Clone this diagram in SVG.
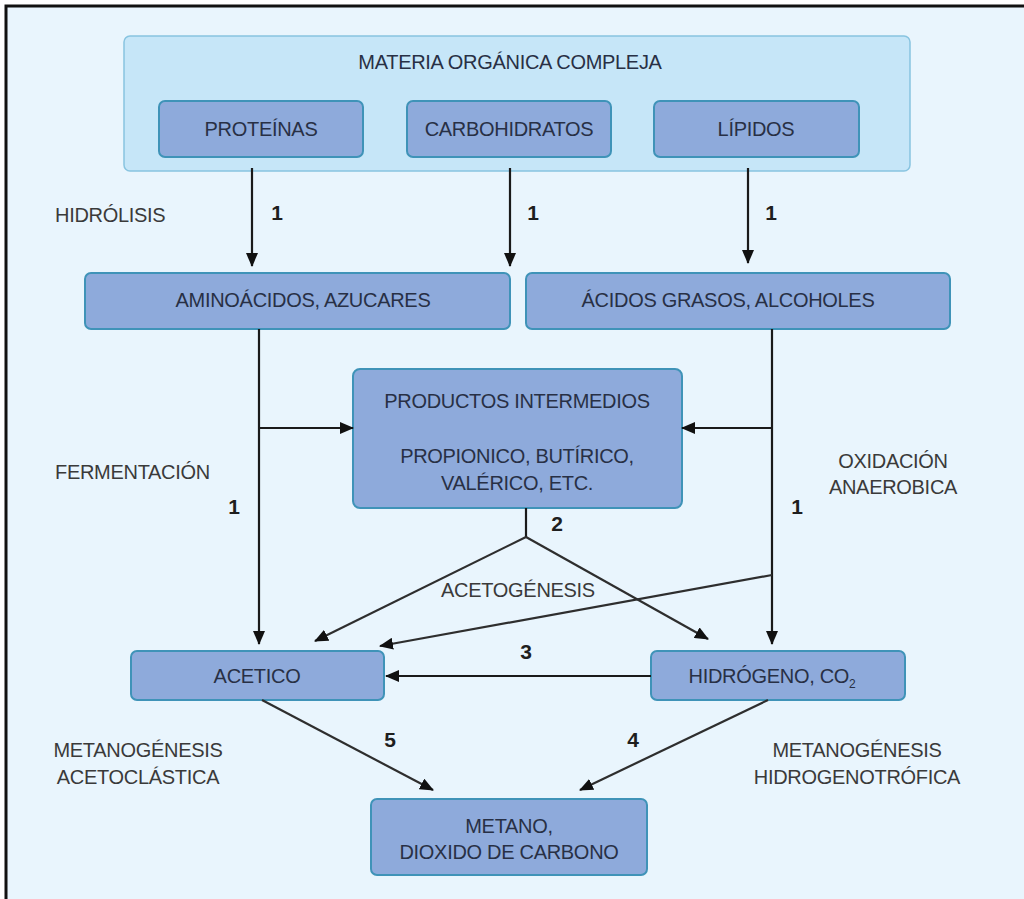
<svg xmlns="http://www.w3.org/2000/svg" width="1024" height="899" viewBox="0 0 1024 899">
  <style>
    .bg { fill: #e9f5fd; }
    .frame { fill: none; stroke: #111; stroke-width: 3; }
    .group { fill: #c6e6f8; stroke: #88c4e0; stroke-width: 1.5; }
    .box { fill: #8eaadb; stroke: #3f93b8; stroke-width: 2; }
    .t { font-family: "Liberation Sans", Arial, sans-serif; font-size: 20px; letter-spacing: -0.3px; fill: #283045; text-anchor: middle; }
    .lbl { font-family: "Liberation Sans", Arial, sans-serif; font-size: 20px; letter-spacing: -0.3px; fill: #3a3a3a; }
    .num { font-family: "Liberation Sans", Arial, sans-serif; font-size: 21px; font-weight: bold; fill: #1e1e1e; text-anchor: middle; }
    .ln { fill: none; stroke: #1a1a1a; stroke-width: 2.2; marker-end: url(#arr); }
    .ln2 { fill: none; stroke: #2e2e2e; stroke-width: 2.2; marker-end: url(#arr); }
  </style>
  <defs>
    <marker id="arr" markerUnits="userSpaceOnUse" markerWidth="14" markerHeight="12" refX="13" refY="6" orient="auto">
      <path d="M0,0 L14,6 L0,12 z" fill="#111"/>
    </marker>
  </defs>

  <!-- page background and frame -->
  <rect x="0" y="0" width="1024" height="899" fill="#ffffff"/>
  <rect class="bg" x="7" y="7" width="1017" height="892"/>
  <path class="frame" d="M6 899 V6 H1024"/>

  <!-- complex organic matter -->
  <g id="materia">
    <rect class="group" x="124" y="36" width="786" height="135" rx="6"/>
    <text class="t" x="510" y="69">MATERIA ORGÁNICA COMPLEJA</text>
  </g>
  <g id="proteinas">
    <rect class="box" x="159" y="101" width="204" height="56" rx="6"/>
    <text class="t" x="261" y="136">PROTEÍNAS</text>
  </g>
  <g id="carbohidratos">
    <rect class="box" x="407" y="101" width="204" height="56" rx="6"/>
    <text class="t" x="509" y="136">CARBOHIDRATOS</text>
  </g>
  <g id="lipidos">
    <rect class="box" x="654" y="101" width="205" height="56" rx="6"/>
    <text class="t" x="756" y="136">LÍPIDOS</text>
  </g>

  <!-- hydrolysis products -->
  <g id="aminoacidos">
    <rect class="box" x="85" y="273" width="425" height="56" rx="6"/>
    <text class="t" x="303" y="307">AMINOÁCIDOS, AZUCARES</text>
  </g>
  <g id="acidos-grasos">
    <rect class="box" x="526" y="273" width="424" height="56" rx="6"/>
    <text class="t" x="728" y="307">ÁCIDOS GRASOS, ALCOHOLES</text>
  </g>

  <!-- intermediate products -->
  <g id="intermedios">
    <rect class="box" x="353" y="369" width="329" height="139" rx="7"/>
    <text class="t" x="517" y="408">PRODUCTOS INTERMEDIOS</text>
    <text class="t" x="517" y="463">PROPIONICO, BUTÍRICO,</text>
    <text class="t" x="517" y="490">VALÉRICO, ETC.</text>
  </g>

  <!-- acetate and hydrogen -->
  <g id="acetico">
    <rect class="box" x="131" y="651" width="253" height="49" rx="6"/>
    <text class="t" x="257" y="683">ACETICO</text>
  </g>
  <g id="hidrogeno">
    <rect class="box" x="651" y="651" width="254" height="49" rx="6"/>
    <text class="t" x="772" y="683">HIDRÓGENO, CO<tspan font-size="12" dy="5">2</tspan></text>
  </g>

  <!-- final products -->
  <g id="metano">
    <rect class="box" x="371" y="799" width="276" height="76" rx="6"/>
    <text class="t" x="509" y="833">METANO,</text>
    <text class="t" x="509" y="859">DIOXIDO DE CARBONO</text>
  </g>

  <!-- connectors -->
  <g id="connectors">
    <path class="ln" d="M252 168 V266"/>
    <path class="ln" d="M510 168 V266"/>
    <path class="ln" d="M748 168 V263"/>
    <path class="ln" d="M259 329 V644"/>
    <path class="ln" d="M259 428 H353"/>
    <path class="ln" d="M772 329 V644"/>
    <path class="ln" d="M772 428 H682"/>
    <path fill="none" stroke="#1a1a1a" stroke-width="2.2" d="M526 508 V537"/>
    <path class="ln2" d="M526 537 L315 641"/>
    <path class="ln2" d="M526 537 L708 639"/>
    <path class="ln2" d="M772 575 L380 646"/>
    <path class="ln" stroke-width="3" d="M651 676 H386"/>
    <path class="ln2" d="M262 700 L433 790"/>
    <path class="ln2" d="M768 700 L580 790"/>
  </g>

  <!-- stage labels -->
  <g id="labels">
    <text class="lbl" x="55" y="222">HIDRÓLISIS</text>
    <text class="lbl" x="55" y="479">FERMENTACIÓN</text>
    <text class="lbl" x="893" y="468" text-anchor="middle">OXIDACIÓN</text>
    <text class="lbl" x="893" y="494" text-anchor="middle">ANAEROBICA</text>
    <text class="lbl" x="518" y="597" text-anchor="middle">ACETOGÉNESIS</text>
    <text class="lbl" x="138" y="757" text-anchor="middle">METANOGÉNESIS</text>
    <text class="lbl" x="138" y="784" text-anchor="middle">ACETOCLÁSTICA</text>
    <text class="lbl" x="857" y="757" text-anchor="middle">METANOGÉNESIS</text>
    <text class="lbl" x="857" y="784" text-anchor="middle">HIDROGENOTRÓFICA</text>
  </g>

  <!-- step numbers -->
  <g id="numbers">
    <text class="num" x="277" y="220">1</text>
    <text class="num" x="533" y="220">1</text>
    <text class="num" x="771" y="220">1</text>
    <text class="num" x="234" y="514">1</text>
    <text class="num" x="797" y="514">1</text>
    <text class="num" x="557" y="531">2</text>
    <text class="num" x="526" y="659">3</text>
    <text class="num" x="390" y="747">5</text>
    <text class="num" x="633" y="747">4</text>
  </g>
</svg>
